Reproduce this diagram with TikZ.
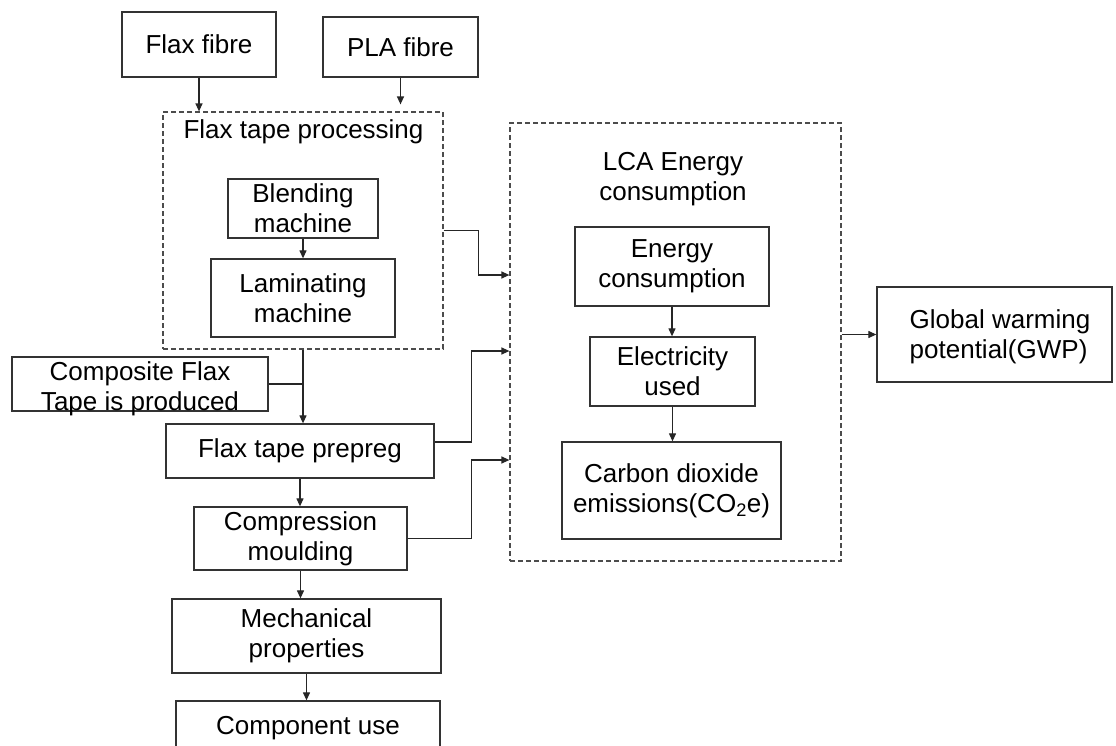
\documentclass[tikz,border=0pt]{standalone}
\usepackage{fontspec}
\setmainfont{Liberation Sans}
\usetikzlibrary{arrows.meta}
\begin{document}
\begin{tikzpicture}[x=1pt,y=-1pt,
  txt/.style={font=\fontsize{26}{30}\selectfont},
  box/.style={txt, draw=black!80, line width=1.3pt, fill=white, inner sep=0pt, align=center},
  group/.style={draw=black!70, line width=1.2pt, dash pattern=on 5pt off 3pt, inner sep=0pt},
  lbl/.style={txt, inner sep=0pt},
  ln/.style={draw=black!85, line width=1.2pt},
  arr/.style={ln, -{Triangle[length=8pt,width=7pt]}}]
\clip (0,0) rectangle (1116,745);
\fill[white] (0,0) rectangle (1116,745);

% groups
\node[group, minimum width=280, minimum height=237] (proc) at (303,230.5) {};
\node[lbl, align=center] (proctitle) at (303.5,132) {Flax tape processing};
\node[group, minimum width=331, minimum height=438] (lca) at (675.5,342) {};
\node[lbl, align=center] (lcatitle) at (673,179) {LCA Energy\\consumption};

% boxes
\node[box, minimum width=154, minimum height=65] (flax) at (199,44.5) {Flax fibre};
\node[box, minimum width=155, minimum height=60] (pla) at (400.5,47) {PLA fibre};
\node[box, minimum width=150, minimum height=59] (blend) at (303,208.5) {Blending\\machine};
\node[box, minimum width=184, minimum height=78] (lam) at (303,298) {Laminating\\machine};
\node[box, minimum width=256, minimum height=54] (comp) at (140,384) {};
\node[lbl, align=center] (comptext) at (140,389) {Composite Flax\\Tape is produced};
\node[box, minimum width=268, minimum height=54] (prepreg) at (300,451) {Flax tape prepreg};
\node[box, minimum width=213, minimum height=63] (compr) at (300.5,538.5) {Compression\\moulding};
\node[box, minimum width=269, minimum height=74] (mech) at (306.5,636) {Mechanical\\properties};
\node[box, minimum width=264, minimum height=54] (use) at (308,728) {Component use};
\node[box, minimum width=194, minimum height=79] (energy) at (672,266.5) {Energy\\consumption};
\node[box, minimum width=165, minimum height=69] (elec) at (672.5,371.5) {Electricity\\used};
\node[box, minimum width=219, minimum height=97] (carbon) at (671.5,490.5) {Carbon dioxide\\emissions(CO\textsubscript{2}e)};
\node[box, minimum width=235, minimum height=95] (gwp) at (994.5,334.5) {};
\node[lbl, align=left] (gwptext) at (1000,336.5) {Global warming\\potential(GWP)};

% connectors
\draw[arr] (flax.south) -- (flax.south |- proc.north);
\draw[arr, shorten >=7pt] (pla.south) -- (pla.south |- proc.north);
\draw[arr] (blend.south) -- (blend.south |- lam.north);
\draw[arr] (proc.south) -- (proc.south |- prepreg.north);
\draw[ln] (comp.east) -- (comp.east -| proc.south);
\draw[arr] (proc.east) -- ++(35,0) |- ([yshift=67pt]lca.west);
\draw[arr] ([yshift=9pt]prepreg.east) -- ++(37,0) |- ([yshift=-9pt]lca.west);
\draw[arr] (compr.east) -- ++(64,0) |- ([yshift=-118pt]lca.west);
\draw[arr] (prepreg.south) -- (prepreg.south |- compr.north);
\draw[arr] (compr.south) -- (compr.south |- mech.north);
\draw[arr] (mech.south) -- (mech.south |- use.north);
\draw[arr] (energy.south) -- (energy.south |- elec.north);
\draw[arr] (elec.south) -- (elec.south |- carbon.north);
\draw[arr] (lca.east |- gwp.west) -- (gwp.west);
\end{tikzpicture}
\end{document}
